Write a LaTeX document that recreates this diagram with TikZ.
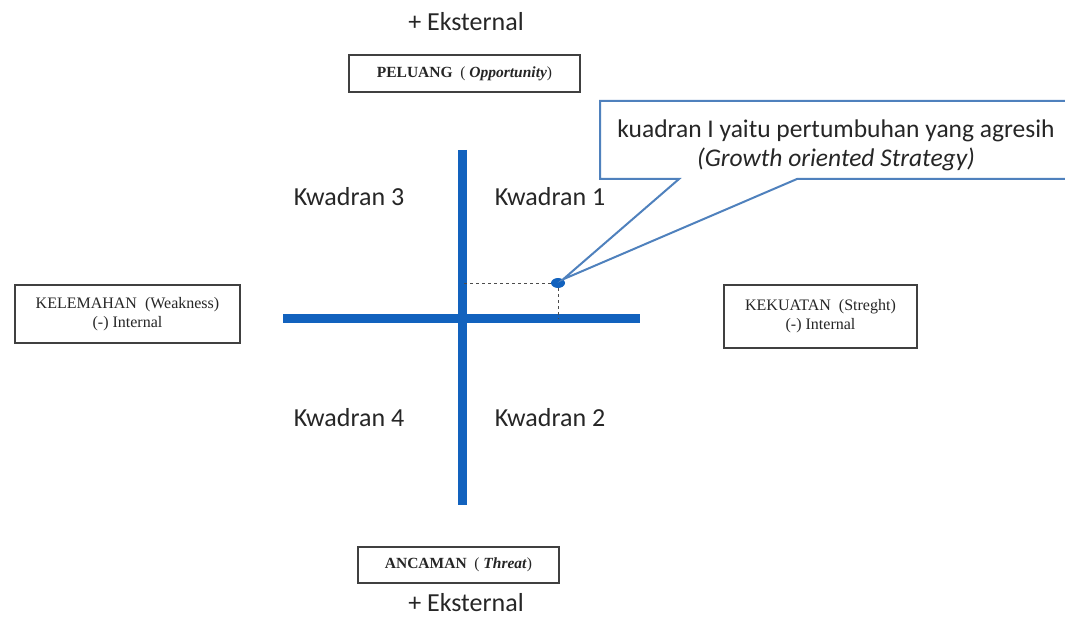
\documentclass[tikz,border=0pt]{standalone}
\usepackage{fontspec}
\setmainfont{Liberation Serif}
\newfontfamily\gill{Carlito}
\usetikzlibrary{shapes.geometric}
\definecolor{axisblue}{HTML}{1262BE}
\definecolor{callblue}{HTML}{4F81BD}
\begin{document}
\begin{tikzpicture}[x=1pt,y=-1pt,
  axisline/.style={line width=9pt, draw=axisblue},
  lbl/.style={font=\gill\fontsize{26}{30}\selectfont, text=black!85, inner sep=0pt},
  ext/.style={font=\gill\fontsize{26}{30}\selectfont, text=black!85, inner sep=0pt, anchor=base},
  box/.style={draw=black!75, line width=1.8pt, fill=white, align=center, inner sep=0pt, text=black!85},
  boxsmall/.style={box, font=\fontsize{15.5}{18}\selectfont},
  boxtwo/.style={box, font=\fontsize{16}{19}\selectfont},
  callout/.style={draw=callblue, line width=2pt, fill=white},
  guide/.style={dashed, draw=black!70, line width=0.8pt},
]
\useasboundingbox (0,0) rectangle (1065,617);

% texts top and bottom
\node[ext] (exttop) at (466,31) {+ Eksternal};
\node[ext] (extbot) at (466,611) {+ Eksternal};

% boxes
\node[boxsmall, minimum width=231pt, minimum height=37pt] (peluang) at (464.5,73.5)
  {\textbf{PELUANG}\ \ ( \textbf{\textit{Opportunity}})};
\node[boxsmall, minimum width=201pt, minimum height=36pt] (ancaman) at (458.5,565)
  {\textbf{ANCAMAN}\ \ ( \textbf{\textit{Threat}})};
\node[boxtwo, minimum width=225pt, minimum height=58pt] (kelemahan) at (127.5,314)
  {KELEMAHAN\ \ (Weakness)\\(-) Internal};
\node[boxtwo, minimum width=193pt, minimum height=63pt] (kekuatan) at (820.5,316.5)
  {KEKUATAN\ \ (Streght)\\(-) Internal};

% axes
\coordinate (vtop) at (462,150);
\coordinate (vbot) at (462,505);
\coordinate (hl) at (283,319);
\coordinate (hr) at (640,319);
\draw[axisline] (vtop) -- (vbot);
\draw[axisline] (hl) -- (hr);

% quadrant labels
\node[lbl] (k3) at (349,197) {Kwadran 3};
\node[lbl] (k1) at (550,197) {Kwadran 1};
\node[lbl] (k4) at (349,418) {Kwadran 4};
\node[lbl] (k2) at (550,418) {Kwadran 2};

% point
\node[ellipse, fill=axisblue, minimum width=14pt, minimum height=10pt, inner sep=0pt] (pt) at (558,283) {};
\draw[guide] (pt.west) -- (pt.west -| vtop);
\draw[guide] (pt.south) -- (pt.south |- hl);

% callout
\coordinate (cA) at (600,101);
\coordinate (cB) at (1080,101);
\coordinate (cC) at (1080,179);
\coordinate (cD) at (797,179);
\coordinate (cE) at (679,179);
\coordinate (cF) at (600,179);
\begin{scope}
\clip (0,0) rectangle (1065,617);
\draw[callout, line join=miter] (cA) -- (cB) -- (cC) -- (cD) -- (pt.north east) -- (cE) -- (cF) -- cycle;
\end{scope}
\node[font=\gill\fontsize{25.5}{29}\selectfont, text=black!85, align=center, inner sep=0pt] (ctext) at (836,145)
  {kuadran I yaitu pertumbuhan yang agresih\\\textit{(Growth oriented Strategy)}};
\end{tikzpicture}
\end{document}
